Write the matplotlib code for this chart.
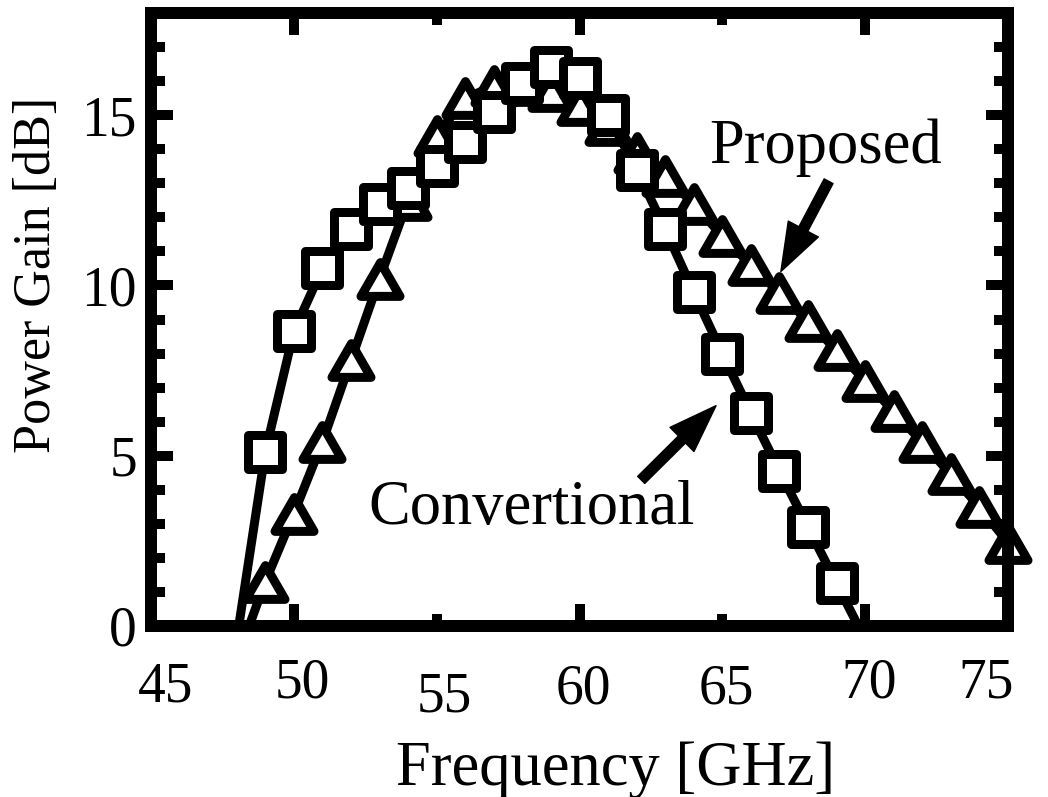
import matplotlib
matplotlib.use("Agg")
import numpy as np
import matplotlib.pyplot as plt
from matplotlib.markers import MarkerStyle
from matplotlib.path import Path
from matplotlib.ticker import MultipleLocator

plt.rcParams["font.family"] = ["Liberation Serif", "DejaVu Serif"]

# Measured power gain versus frequency
freq_conventional = [48, 49, 50, 51, 52, 53, 54, 55, 56, 57, 58, 59,
                     60, 61, 62, 63, 64, 65, 66, 67, 68, 69, 70]
gain_conventional = [-0.4, 5.1, 8.65, 10.5, 11.65, 12.4, 12.85, 13.5, 14.2,
                     15.1, 15.95, 16.4, 16.1, 15.0, 13.4, 11.65, 9.8, 8.0,
                     6.25, 4.55, 2.9, 1.25, -0.4]

freq_proposed = [48, 49, 50, 51, 52, 53, 54, 55, 56, 57, 58, 59, 60, 61,
                 62, 63, 64, 65, 66, 67, 68, 69, 70, 71, 72, 73, 74, 75]
gain_proposed = [-1.0, 1.3, 3.3, 5.4, 7.8, 10.2, 12.5, 14.4, 15.5, 15.85,
                 15.9, 15.7, 15.3, 14.7, 13.9, 13.2, 12.4, 11.45, 10.6, 9.78,
                 8.95, 8.1, 7.2, 6.3, 5.4, 4.45, 3.5, 2.45]

x_tick_values = [45, 50, 55, 60, 65, 70, 75]
# hand placement of the x labels (pixels): sideways shift and drop below the axis
x_tick_shift = [15, 9, 8, 4, 4, 4, -22]
x_tick_drop = [62, 57, 71, 64, 64, 57, 57]
y_tick_values = [0, 5, 10, 15]

fig = plt.figure(figsize=(10.48, 7.97), dpi=100)
ax = fig.add_axes([151 / 1048, 1 - 626 / 797, (1008 - 151) / 1048, (626 - 13) / 797])

px = 72 / 100.0  # points per pixel
line_w = 9 * px
edge_w = 9 * px

tri_path = Path([(0, 0.433), (-0.5, -0.433), (0.5, -0.433), (0, 0.433)],
                [Path.MOVETO, Path.LINETO, Path.LINETO, Path.CLOSEPOLY])
tri_marker = MarkerStyle(tri_path, joinstyle="round")
sq_marker = MarkerStyle("s", joinstyle="round")

fp = np.array(freq_proposed)
gp = np.array(gain_proposed)
fc = np.array(freq_conventional)
gc = np.array(gain_conventional)

# Proposed: line clipped to the axes, markers where the gain is positive
ax.plot(fp, gp, color="black", lw=line_w, solid_joinstyle="round",
        solid_capstyle="round", zorder=2.0)
ax.plot(fp[gp > 0], gp[gp > 0], linestyle="none", marker=tri_marker,
        markersize=39 * px, markeredgewidth=edge_w, markerfacecolor="white",
        markeredgecolor="black", clip_on=False, zorder=2.1)

# Conventional
ax.plot(fc, gc, color="black", lw=line_w, solid_joinstyle="round",
        solid_capstyle="round", zorder=2.2)
ax.plot(fc[gc > 0], gc[gc > 0], linestyle="none", marker=sq_marker,
        markersize=34 * px, markeredgewidth=edge_w, markerfacecolor="white",
        markeredgecolor="black", clip_on=False, zorder=2.3)

ax.set_xlim(45, 75)
ax.set_ylim(0, 18)

ax.xaxis.set_major_locator(MultipleLocator(10))
ax.xaxis.set_minor_locator(MultipleLocator(5))
ax.set_yticks(y_tick_values)
ax.yaxis.set_minor_locator(MultipleLocator(1))

ax.tick_params(which="both", direction="in", top=True, right=True,
               width=10 * px, color="black")
ax.tick_params(axis="x", which="major", length=22 * px)
ax.tick_params(axis="x", which="minor", length=12 * px)
ax.tick_params(axis="y", which="major", length=22 * px)
ax.tick_params(axis="y", which="minor", length=14 * px)
ax.tick_params(axis="x", labelbottom=False)
ax.tick_params(axis="y", labelsize=40, pad=14 * px)

for sp in ax.spines.values():
    sp.set_linewidth(12 * px)
    sp.set_capstyle("projecting")
    sp.set_joinstyle("round")

# x tick labels, placed individually
for val, dx, dy in zip(x_tick_values, x_tick_shift, x_tick_drop):
    ax.annotate(str(val), xy=(val, 0), xycoords=("data", "axes fraction"),
                xytext=(dx * px, -dy * px), textcoords="offset points",
                ha="center", va="center", fontsize=40)

fig.text(616 / 1048, 1 - 785 / 797, "Frequency [GHz]", ha="center",
         va="baseline", fontsize=45)
fig.text(37 / 1048, 1 - 275 / 797, "Power Gain [dB]", ha="center",
         va="center", rotation=90, fontsize=37.5)

# Curve labels with arrows
ax.text(68.6, 14.05, "Proposed", ha="center", va="center", fontsize=45)
ax.annotate("", xy=(67.05, 10.41), xytext=(68.72, 13.06),
            arrowprops=dict(facecolor="black", edgecolor="black",
                            width=10 * px, headwidth=34 * px,
                            headlength=48 * px, shrink=0))
ax.text(58.33, 3.45, "Convertional", ha="center", va="center", fontsize=45)
ax.annotate("", xy=(64.78, 6.47), xytext=(62.16, 4.29),
            arrowprops=dict(facecolor="black", edgecolor="black",
                            width=10 * px, headwidth=34 * px,
                            headlength=48 * px, shrink=0))

fig.savefig("out.png", dpi=100)
